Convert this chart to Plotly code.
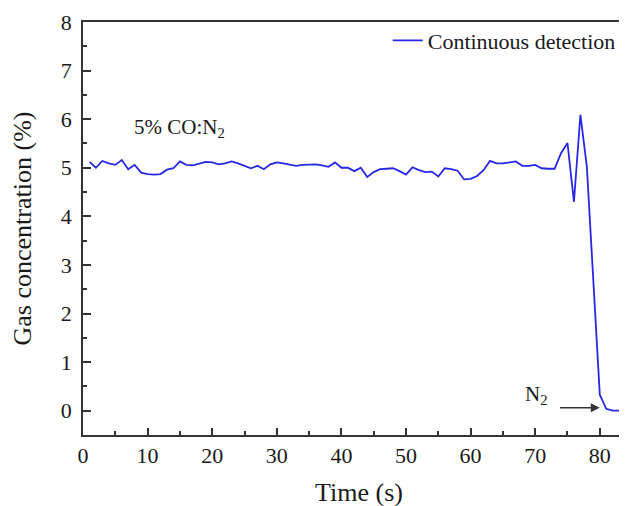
import plotly.graph_objects as go

# time (s) and measured gas concentration (%)
time_s = list(range(1, 87))
conc = [
    5.12, 5.00, 5.14, 5.09, 5.06, 5.16, 4.97, 5.06, 4.90, 4.87,
    4.86, 4.87, 4.96, 4.99, 5.13, 5.06, 5.05, 5.09, 5.12, 5.11,
    5.07, 5.09, 5.13, 5.09, 5.04, 4.99, 5.04, 4.97, 5.07, 5.11,
    5.09, 5.07, 5.04, 5.06, 5.06, 5.07, 5.05, 5.02, 5.11, 5.00,
    5.00, 4.93, 5.00, 4.81, 4.91, 4.97, 4.98, 4.99, 4.93, 4.86,
    5.01, 4.95, 4.91, 4.92, 4.82, 4.99, 4.97, 4.94, 4.76, 4.77,
    4.83, 4.95, 5.14, 5.09, 5.09, 5.11, 5.13, 5.04, 5.04, 5.06,
    4.99, 4.98, 4.98, 5.30, 5.51, 4.30, 6.09, 5.02, 2.70, 0.33,
    0.04, 0.00, 0.00, 0.03, 0.06, 0.07,
]

FONT = "Liberation Serif"
TEXT_COLOR = "#1a1a1a"
TICK_FONT = dict(family=FONT, size=22, color=TEXT_COLOR)
LINE_COLOR = "#2727E6"
AXIS_COLOR = "#333333"

fig = go.Figure()

fig.add_trace(go.Scatter(
    x=time_s, y=conc, mode="lines", name="Continuous detection",
    line=dict(color=LINE_COLOR, width=1.8),
))

# text labels on the plot
fig.add_annotation(x=7.6, y=5.82, xref="x", yref="y", xanchor="left",
                   text="5% CO:N<sub>2</sub>", showarrow=False,
                   font=dict(family=FONT, size=21, color=TEXT_COLOR))
fig.add_annotation(x=70.2, y=0.33, xref="x", yref="y",
                   text="N<sub>2</sub>", showarrow=False,
                   font=dict(family=FONT, size=21, color=TEXT_COLOR))
fig.add_annotation(x=80.0, y=0.06, ax=73.6, ay=0.06, xref="x", yref="y",
                   axref="x", ayref="y", text="", showarrow=True,
                   arrowhead=2, arrowsize=1.2, arrowwidth=1.5, arrowcolor="#333333")

# the page is drawn 8 px in from the top-left, the right edge is cut like the source
fig.update_layout(
    width=627, height=506,
    margin=dict(l=75, r=0, t=14, b=79),
    plot_bgcolor="white", paper_bgcolor="white",
    font=dict(family=FONT, color=TEXT_COLOR),
    showlegend=True,
    legend=dict(x=0.552, y=1.006, xanchor="left", yanchor="top",
                bgcolor="rgba(0,0,0,0)", font=dict(family=FONT, size=22, color=TEXT_COLOR)),
)

fig.update_xaxes(
    range=[0, 85.45], tickmode="linear", tick0=0, dtick=10,
    ticks="inside", ticklen=7, tickwidth=1.5, tickcolor=AXIS_COLOR,
    minor=dict(dtick=5, ticks="inside", ticklen=4, tickwidth=1.5, tickcolor=AXIS_COLOR),
    showline=True, linecolor=AXIS_COLOR, linewidth=1.5, mirror=True,
    showgrid=False, zeroline=False, tickfont=TICK_FONT,
    title=dict(text="Time (s)", font=dict(family=FONT, size=26, color=TEXT_COLOR), standoff=16),
)
fig.update_yaxes(
    range=[-0.5, 8], tickmode="linear", tick0=0, dtick=1,
    ticks="inside", ticklen=8, tickwidth=1.5, tickcolor=AXIS_COLOR,
    minor=dict(dtick=0.5, ticks="inside", ticklen=4, tickwidth=1.5, tickcolor=AXIS_COLOR),
    showline=True, linecolor=AXIS_COLOR, linewidth=1.5, mirror=False,
    showgrid=False, zeroline=False, tickfont=TICK_FONT, ticklabelstandoff=5,
    title=dict(text="Gas concentration (%)", font=dict(family=FONT, size=26, color=TEXT_COLOR), standoff=24),
)

fig.write_html("out.html")
